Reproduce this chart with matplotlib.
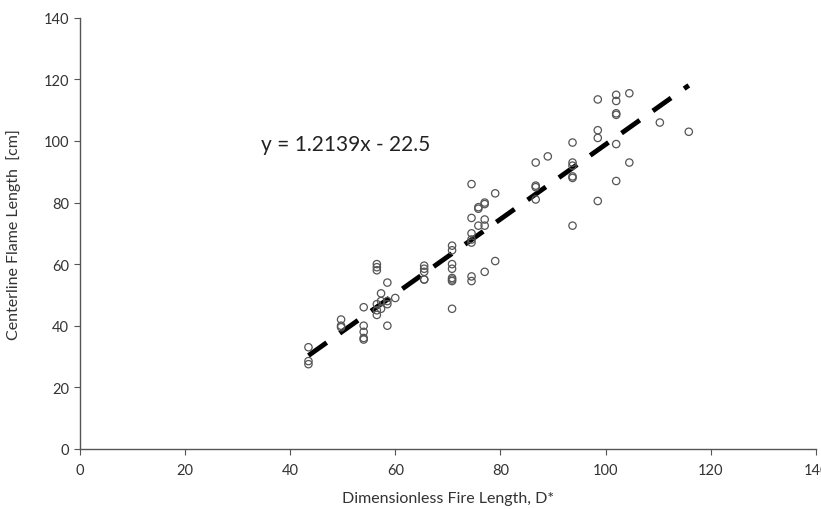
#import the libraries
import numpy as np
import matplotlib.pyplot as plt

plt.rcParams['font.family'] = ['Lato', 'DejaVu Sans']

# measured points: x positions (D*) and flame lengths
x_data = [43.5, 43.5, 43.5,
          49.7, 49.7, 49.7,
          54, 54, 54, 54, 54,
          56.5, 56.5, 56.5, 56.5, 56.5, 56.5,
          57.3, 57.3, 57.3,
          58.5, 58.5, 58.5, 58.5,
          60,
          65.5, 65.5, 65.5, 65.5, 65.5,
          70.8, 70.8, 70.8, 70.8, 70.8, 70.8, 70.8, 70.8,
          74.5, 74.5, 74.5, 74.5, 74.5, 74.5, 74.5,
          75.8, 75.8, 75.8,
          77, 77, 77, 77, 77,
          79, 79,
          86.7, 86.7, 86.7, 86.7,
          89,
          93.7, 93.7, 93.7, 93.7, 93.7, 93.7,
          98.5, 98.5, 98.5, 98.5,
          102, 102, 102, 102, 102, 102,
          104.5, 104.5,
          110.3,
          115.8]
y_data = [33, 28.5, 27.5,
          42, 40, 39.5,
          46, 40, 38, 36, 35.5,
          60, 59, 58, 47, 45, 43.5,
          50.5, 48, 45.5,
          54, 48, 47, 40,
          49,
          59.5, 58.5, 57.5, 55, 55,
          66, 64.5, 60, 58.5, 55.5, 55, 54.5, 45.5,
          86, 75, 70, 68, 67, 56, 54.5,
          78.5, 78, 72.5,
          80, 79.5, 74.5, 72.5, 57.5,
          83, 61,
          93, 85.5, 85, 81,
          95,
          99.5, 93, 92, 88.5, 88, 72.5,
          113.5, 103.5, 101, 80.5,
          115, 113, 109, 108.5, 99, 87,
          115.5, 93,
          106,
          103]

# linear fit shown on the chart
slope = 1.2139
intercept = -22.5
fit_x = np.array([43.5, 115.8])

fig = plt.figure(figsize=(8.21, 5.10), dpi=100)
ax = fig.add_axes([0.097, 0.118, 0.897, 0.845])

ax.scatter(x_data, y_data, s=28, facecolors='none', edgecolors='#555555', linewidths=0.9, zorder=3)
ax.plot(fit_x, slope*fit_x + intercept, color='black', linewidth=3.5,
        linestyle=(0, (4.6, 3.3)), zorder=2)

ax.text(34.5, 99, "y = 1.2139x - 22.5", fontsize=15, va='center', ha='left', color='#222222')

ax.set_xlim(0, 140)
ax.set_ylim(0, 140)
ax.set_xticks(np.arange(0, 141, 20))
ax.set_yticks(np.arange(0, 141, 20))
for side in ['top', 'right']:
    ax.spines[side].set_visible(False)
for side in ['left', 'bottom']:
    ax.spines[side].set_color('#555555')
    ax.spines[side].set_linewidth(1.0)
ax.tick_params(direction='out', length=4, color='#555555', labelsize=10.5, labelcolor='#333333')
ax.tick_params(axis='x', pad=6)

ax.set_xlabel("Dimensionless Fire Length, D*", fontsize=11.5, color='#333333', labelpad=10)
ax.set_ylabel("Centerline Flame Length  [cm]", fontsize=11.5, color='#333333', labelpad=16)

plt.savefig("out.png", dpi=100)
